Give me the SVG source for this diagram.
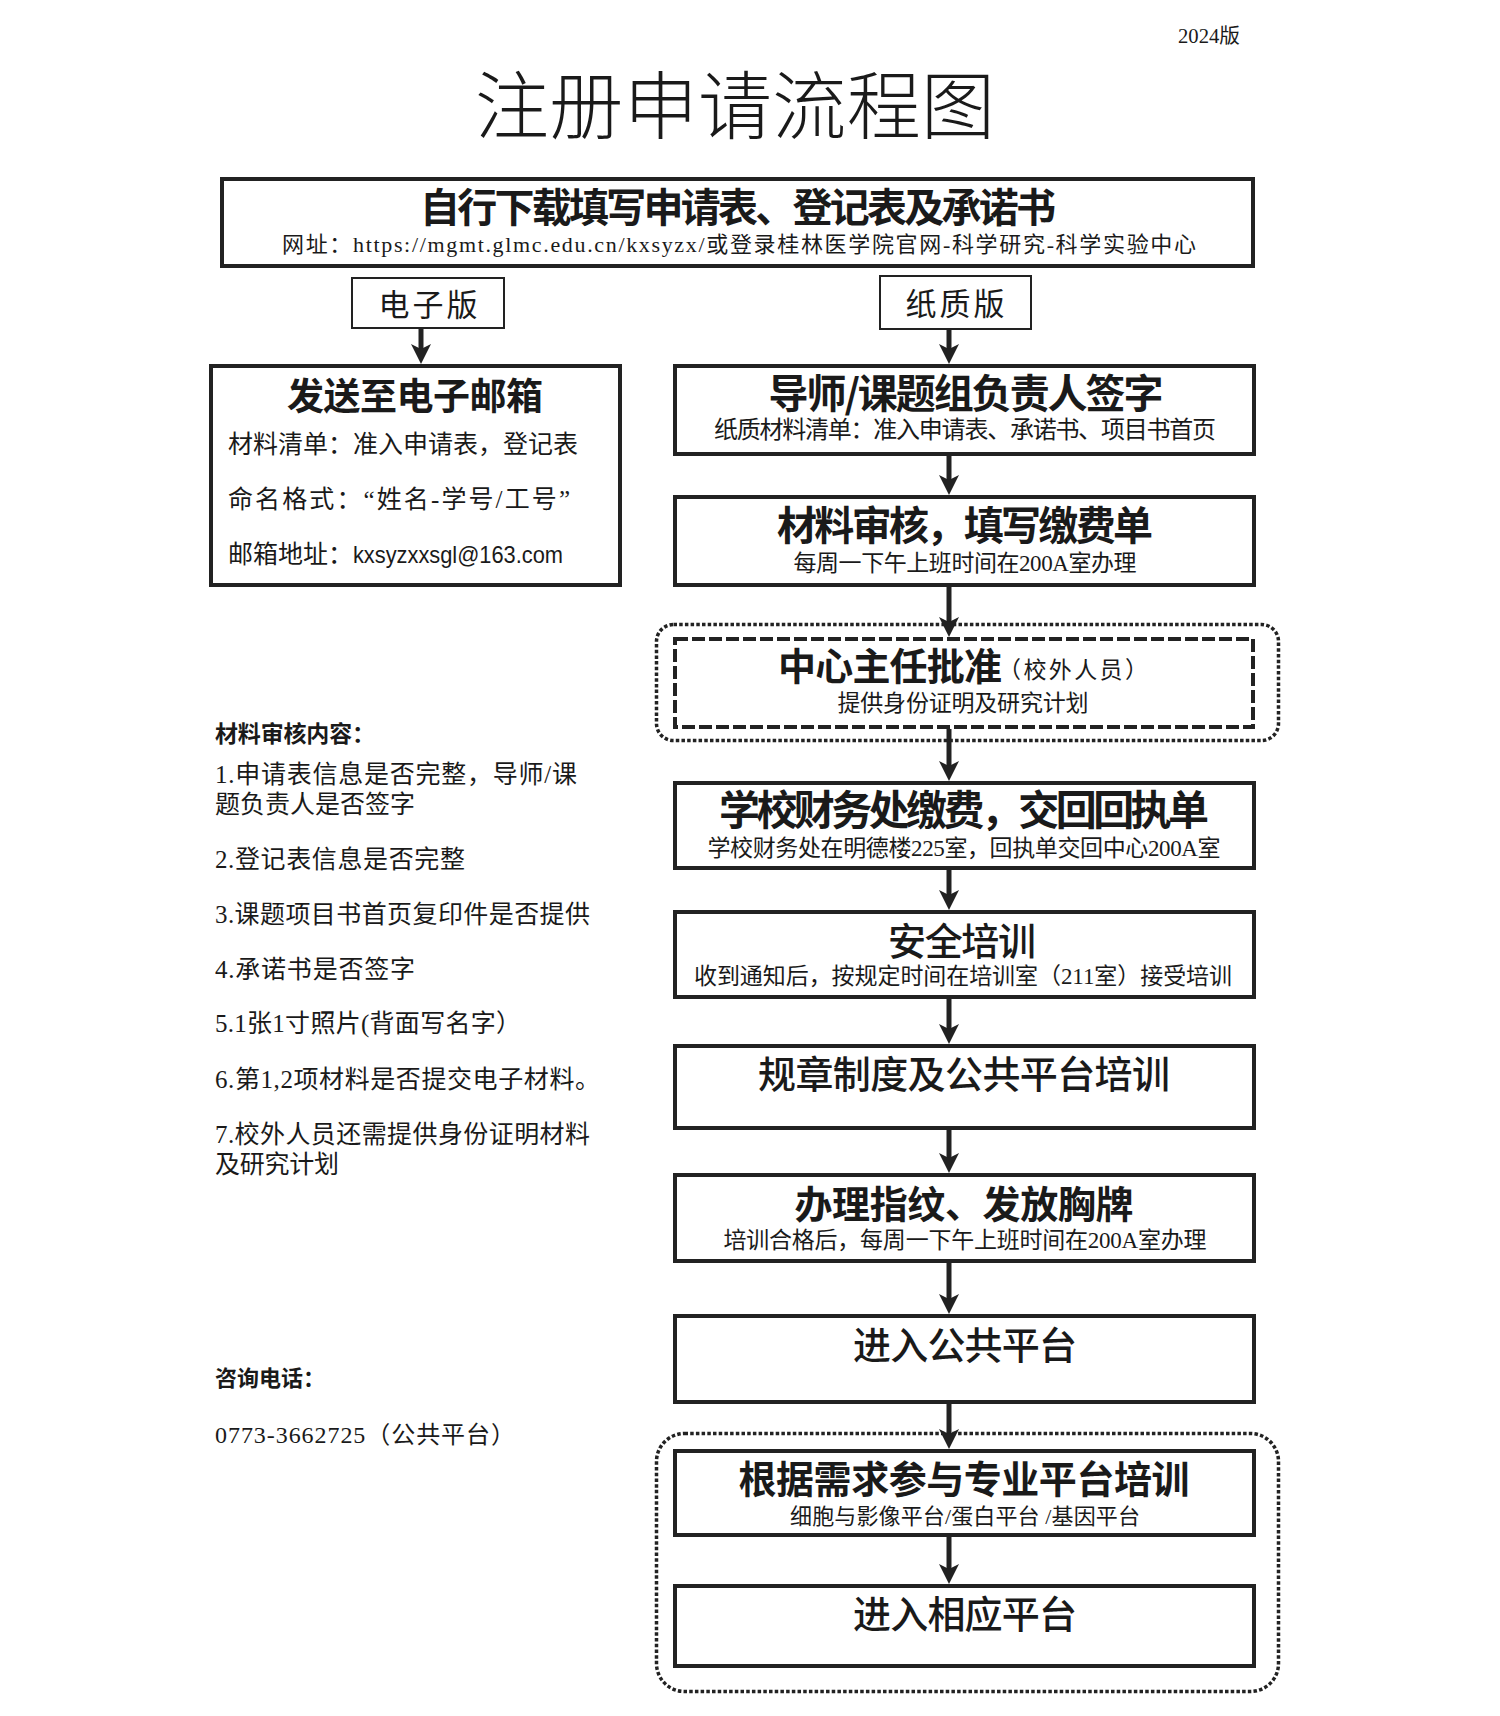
<svg xmlns="http://www.w3.org/2000/svg" width="1500" height="1716" viewBox="0 0 1500 1716">
<style>
.bg{fill:#ffffff}
.box{fill:#ffffff;stroke:#222;stroke-width:4}
.thin{fill:#ffffff;stroke:#222;stroke-width:2}
.dash{fill:none;stroke:#222;stroke-width:4;stroke-dasharray:13 4}
.dot{fill:none;stroke:#222;stroke-width:3.5;stroke-dasharray:3.5 2.2}
.conn{stroke:#222;stroke-width:5;fill:none}
.h{font-family:"Noto Sans CJK SC","Noto Sans CJK JP",sans-serif;font-weight:700;fill:#1a1a1a}
.hm{font-family:"Noto Sans CJK SC","Noto Sans CJK JP",sans-serif;font-weight:500;fill:#1a1a1a}
.hl{font-family:"Noto Sans CJK SC","Noto Sans CJK JP",sans-serif;font-weight:300;fill:#1a1a1a}
.t{font-family:"Liberation Serif","Noto Sans CJK SC",serif;font-weight:400;fill:#1a1a1a}
.ts{font-family:"Liberation Sans","Noto Sans CJK SC",sans-serif;font-weight:400;fill:#1a1a1a}
.c{text-anchor:middle}
</style>
<defs>
<marker id="ah" markerUnits="userSpaceOnUse" viewBox="0 0 20 20" refX="5" refY="10" markerWidth="20" markerHeight="20" orient="auto">
<path d="M0,0 L20,10 L0,20 L5,10 Z" fill="#222"/>
</marker>
</defs>
<rect class="bg" x="0" y="0" width="1500" height="1716"/>

<g id="header">
<text class="t" x="1178" y="43" font-size="20" textLength="62" lengthAdjust="spacingAndGlyphs">2024版</text>
<text class="hl c" x="735" y="133" font-size="74" textLength="520" lengthAdjust="spacing">注册申请流程图</text>
</g>

<g id="node-download">
<rect class="box" x="222" y="179" width="1031" height="87"/>
<text class="h c" x="738" y="222" font-size="40" textLength="636" lengthAdjust="spacing">自行下载填写申请表、登记表及承诺书</text>
<text class="t c" x="739" y="252" font-size="22" textLength="914" lengthAdjust="spacing">网址：https://mgmt.glmc.edu.cn/kxsyzx/或登录桂林医学院官网-科学研究-科学实验中心</text>
</g>

<g id="node-electronic">
<rect class="thin" x="352" y="278" width="152" height="50"/>
<text class="t c" x="428" y="316" font-size="31" textLength="99" lengthAdjust="spacing">电子版</text>
</g>

<g id="node-paper">
<rect class="thin" x="880" y="276" width="151" height="53"/>
<text class="t c" x="955" y="315" font-size="31" textLength="99" lengthAdjust="spacing">纸质版</text>
</g>

<g id="node-email">
<rect class="box" x="211" y="366" width="409" height="219"/>
<text class="h c" x="415" y="410" font-size="37" textLength="256" lengthAdjust="spacing">发送至电子邮箱</text>
<text class="t" x="228" y="453" font-size="25" textLength="350" lengthAdjust="spacing">材料清单：准入申请表，登记表</text>
<text class="t" x="228" y="508" font-size="25" textLength="342" lengthAdjust="spacing">命名格式：“姓名-学号/工号”</text>
<text class="ts" x="228" y="563" font-size="24"><tspan class="t" font-size="25" textLength="125" lengthAdjust="spacing">邮箱地址：</tspan><tspan textLength="210" lengthAdjust="spacingAndGlyphs">kxsyzxxsgl@163.com</tspan></text>
</g>

<g id="node-sign">
<rect class="box" x="675" y="366" width="579" height="88"/>
<text class="h c" x="966" y="408" font-size="40" textLength="395" lengthAdjust="spacing">导师/课题组负责人签字</text>
<text class="t c" x="965" y="438" font-size="24" textLength="502" lengthAdjust="spacing">纸质材料清单：准入申请表、承诺书、项目书首页</text>
</g>

<g id="node-review">
<rect class="box" x="675" y="497" width="579" height="88"/>
<text class="h c" x="965" y="540" font-size="40" textLength="376" lengthAdjust="spacing">材料审核，填写缴费单</text>
<text class="t c" x="965" y="571" font-size="23" textLength="343" lengthAdjust="spacing">每周一下午上班时间在200A室办理</text>
</g>

<g id="node-director">
<rect class="dot" x="656.5" y="624.5" width="622" height="116" rx="17" ry="17"/>
<rect class="dash" x="675" y="639" width="578" height="88"/>
<text class="h" x="778" y="680" font-size="38" textLength="224" lengthAdjust="spacing">中心主任批准</text>
<text class="t" x="998" y="678" font-size="23" textLength="150" lengthAdjust="spacing">（校外人员）</text>
<text class="t c" x="963" y="711" font-size="23" textLength="251" lengthAdjust="spacing">提供身份证明及研究计划</text>
</g>

<g id="node-payment">
<rect class="box" x="675" y="783" width="579" height="85"/>
<text class="h c" x="964" y="825" font-size="41" textLength="490" lengthAdjust="spacing">学校财务处缴费，交回回执单</text>
<text class="t c" x="964" y="856" font-size="23" textLength="513" lengthAdjust="spacing">学校财务处在明德楼225室，回执单交回中心200A室</text>
</g>

<g id="node-safety">
<rect class="box" x="675" y="912" width="579" height="85"/>
<text class="hm c" x="962" y="955" font-size="38" textLength="148" lengthAdjust="spacing">安全培训</text>
<text class="t c" x="963" y="984" font-size="23" textLength="538" lengthAdjust="spacing">收到通知后，按规定时间在培训室（211室）接受培训</text>
</g>

<g id="node-rules">
<rect class="box" x="675" y="1046" width="579" height="82"/>
<text class="hm c" x="964" y="1088" font-size="38" textLength="412" lengthAdjust="spacing">规章制度及公共平台培训</text>
</g>

<g id="node-badge">
<rect class="box" x="675" y="1175" width="579" height="86"/>
<text class="h c" x="964" y="1218" font-size="38" textLength="339" lengthAdjust="spacing">办理指纹、发放胸牌</text>
<text class="t c" x="965" y="1248" font-size="23" textLength="483" lengthAdjust="spacing">培训合格后，每周一下午上班时间在200A室办理</text>
</g>

<g id="node-public">
<rect class="box" x="675" y="1316" width="579" height="86"/>
<text class="hm c" x="965" y="1359" font-size="38" textLength="224" lengthAdjust="spacing">进入公共平台</text>
</g>

<g id="group-special">
<rect class="dot" x="656.5" y="1433.5" width="622" height="258" rx="28" ry="28"/>
</g>

<g id="node-special-training">
<rect class="box" x="675" y="1451" width="579" height="84"/>
<text class="h c" x="964" y="1493" font-size="38" textLength="451" lengthAdjust="spacing">根据需求参与专业平台培训</text>
<text class="t c" x="965" y="1524" font-size="22" textLength="350" lengthAdjust="spacing">细胞与影像平台/蛋白平台 /基因平台</text>
</g>

<g id="node-enter">
<rect class="box" x="675" y="1586" width="579" height="80"/>
<text class="hm c" x="965" y="1628" font-size="38" textLength="224" lengthAdjust="spacing">进入相应平台</text>
</g>

<g id="notes">
<text class="h" x="215" y="742" font-size="23" textLength="160" lengthAdjust="spacing">材料审核内容：</text>
<text class="t" x="215" y="783" font-size="25" textLength="362" lengthAdjust="spacing">1.申请表信息是否完整，导师/课</text>
<text class="t" x="215" y="813" font-size="25" textLength="200" lengthAdjust="spacing">题负责人是否签字</text>
<text class="t" x="215" y="868" font-size="25" textLength="250" lengthAdjust="spacing">2.登记表信息是否完整</text>
<text class="t" x="215" y="923" font-size="25" textLength="375" lengthAdjust="spacing">3.课题项目书首页复印件是否提供</text>
<text class="t" x="215" y="978" font-size="25" textLength="200" lengthAdjust="spacing">4.承诺书是否签字</text>
<text class="t" x="215" y="1032" font-size="25" textLength="306" lengthAdjust="spacing">5.1张1寸照片(背面写名字）</text>
<text class="t" x="215" y="1088" font-size="25" textLength="385" lengthAdjust="spacing">6.第1,2项材料是否提交电子材料。</text>
<text class="t" x="215" y="1143" font-size="25" textLength="375" lengthAdjust="spacing">7.校外人员还需提供身份证明材料</text>
<text class="t" x="215" y="1173" font-size="25" textLength="124" lengthAdjust="spacing">及研究计划</text>
<text class="h" x="215" y="1386" font-size="22" textLength="110" lengthAdjust="spacing">咨询电话：</text>
<text class="t" x="215" y="1443" font-size="24" textLength="300" lengthAdjust="spacing">0773-3662725（公共平台）</text>
</g>

<g id="connectors">
<line class="conn" x1="421" y1="328" x2="421" y2="349" marker-end="url(#ah)"/>
<line class="conn" x1="949" y1="329" x2="949" y2="349" marker-end="url(#ah)"/>
<line class="conn" x1="949" y1="456" x2="949" y2="480" marker-end="url(#ah)"/>
<line class="conn" x1="949" y1="587" x2="949" y2="622" marker-end="url(#ah)"/>
<line class="conn" x1="949" y1="729" x2="949" y2="766" marker-end="url(#ah)"/>
<line class="conn" x1="949" y1="870" x2="949" y2="895" marker-end="url(#ah)"/>
<line class="conn" x1="949" y1="999" x2="949" y2="1029" marker-end="url(#ah)"/>
<line class="conn" x1="949" y1="1130" x2="949" y2="1158" marker-end="url(#ah)"/>
<line class="conn" x1="949" y1="1263" x2="949" y2="1299" marker-end="url(#ah)"/>
<line class="conn" x1="949" y1="1404" x2="949" y2="1434" marker-end="url(#ah)"/>
<line class="conn" x1="949" y1="1537" x2="949" y2="1569" marker-end="url(#ah)"/>
</g>
</svg>
